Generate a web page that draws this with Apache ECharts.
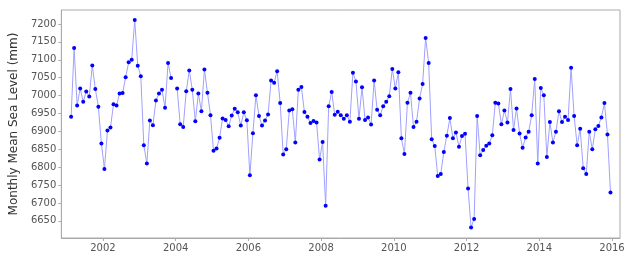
<!DOCTYPE html>
<html>
<head>
<meta charset="utf-8">
<script src="https://cdn.jsdelivr.net/npm/echarts@6/dist/echarts.min.js"></script>
<style>html,body{margin:0;padding:0;background:#fff}#c{width:640px;height:256px}</style>
</head>
<body>
<div id="c"></div>
<script>
// first observation: February 2001, monthly (mid-month)
var startYear = 2001;
var startMonth = 2;
var seaLevel = [
  6941, 7133, 6972, 7020, 6983, 7011, 6997, 7084, 7018, 6969, 6866,
  6795, 6902, 6911, 6976, 6972, 7006, 7007, 7051, 7093, 7100, 7211, 7083,
  7054, 6861, 6810, 6930, 6917, 6986, 7006, 7016, 6966, 7091, 7049, null,
  7020, 6920, 6912, 7012, 7070, 7016, 6928, 7006, 6956, 7073, 7008, 6945,
  6846, 6852, 6882, 6936, 6932, 6914, 6944, 6963, 6953, 6916, 6953, 6931,
  6777, 6895, 7001, 6943, 6916, 6930, 6947, 7042, 7036, 7068, 6979, 6835,
  6850, 6958, 6962, 6869, 7016, 7024, 6954, 6941, 6923, 6929, 6925, 6821,
  6870, 6692, 6970, 7010, 6946, 6955, 6945, 6935, 6945, 6927, 7064, 7039,
  6935, 7023, 6932, 6939, 6919, 7042, 6960, 6945, 6970, 6983, 6998, 7074,
  7020, 7065, 6881, 6837, 6980, 7008, 6912, 6927, 6992, 7032, 7161, 7091,
  6878, 6859, 6775, 6781, 6842, 6888, 6937, 6881, 6897, 6857, 6887, 6893,
  6740, 6631, 6655, 6943, 6833, 6848, 6860, 6866, 6889, 6980, 6978, 6920,
  6958, 6925, 7018, 6904, 6964, 6894, 6854, 6883, 6899, 6945, 7046, 6810,
  7021, 7001, 6828, 6926, 6869, 6899, 6956, 6926, 6941, 6932, 7078, 6943,
  6861, 6907, 6797, 6781, 6899, 6850, 6906, 6915, 6939, 6979, 6891, 6729
];
var xTicks = [2002, 2004, 2006, 2008, 2010, 2012, 2014, 2016];
var yTicks = [6650, 6700, 6750, 6800, 6850, 6900, 6950, 7000, 7050, 7100, 7150, 7200];
var yName = 'Monthly Mean Sea Level (mm)';

var points = seaLevel.map(function (v, i) {
  var t = startYear + (startMonth - 1 + i + 0.5) / 12;
  return [t, v === null ? '-' : v];
});

var chart = echarts.init(document.getElementById('c'), null, {renderer: 'canvas'});
var axisCol = '#aaaaaa';
var labCol = '#555555';
chart.setOption({
  animation: false,
  grid: {left: 56, right: 20, top: 10, bottom: 18, show: true, borderColor: axisCol, borderWidth: 1, containLabel: false},
  xAxis: {
    type: 'value', min: 2000.857, max: 2016.22,
    axisLine: {show: true, lineStyle: {color: axisCol}},
    axisTick: {show: true, length: 3, lineStyle: {color: axisCol}, customValues: xTicks},
    axisLabel: {color: labCol, fontFamily: 'DejaVu Sans', fontSize: 10, margin: 5, customValues: xTicks, formatter: function (v) { return String(v); }},
    splitLine: {show: false}
  },
  yAxis: {
    type: 'value', min: 6602, max: 7239,
    name: yName, nameLocation: 'middle', nameGap: 35, nameRotate: 90,
    nameTextStyle: {color: '#333333', fontFamily: 'DejaVu Sans', fontSize: 12},
    axisLine: {show: true, lineStyle: {color: axisCol}},
    axisTick: {show: true, length: 3, lineStyle: {color: axisCol}, customValues: yTicks},
    axisLabel: {color: labCol, fontFamily: 'DejaVu Sans', fontSize: 10, margin: 5, customValues: yTicks, formatter: function (v) { return String(v); }},
    splitLine: {show: false}
  },
  series: [{
    type: 'line', data: points, connectNulls: false,
    lineStyle: {color: '#a0a0ff', width: 1},
    itemStyle: {color: '#0000ff'},
    symbol: 'circle', symbolSize: 4, showSymbol: true
  }]
});
</script>
</body>
</html>
